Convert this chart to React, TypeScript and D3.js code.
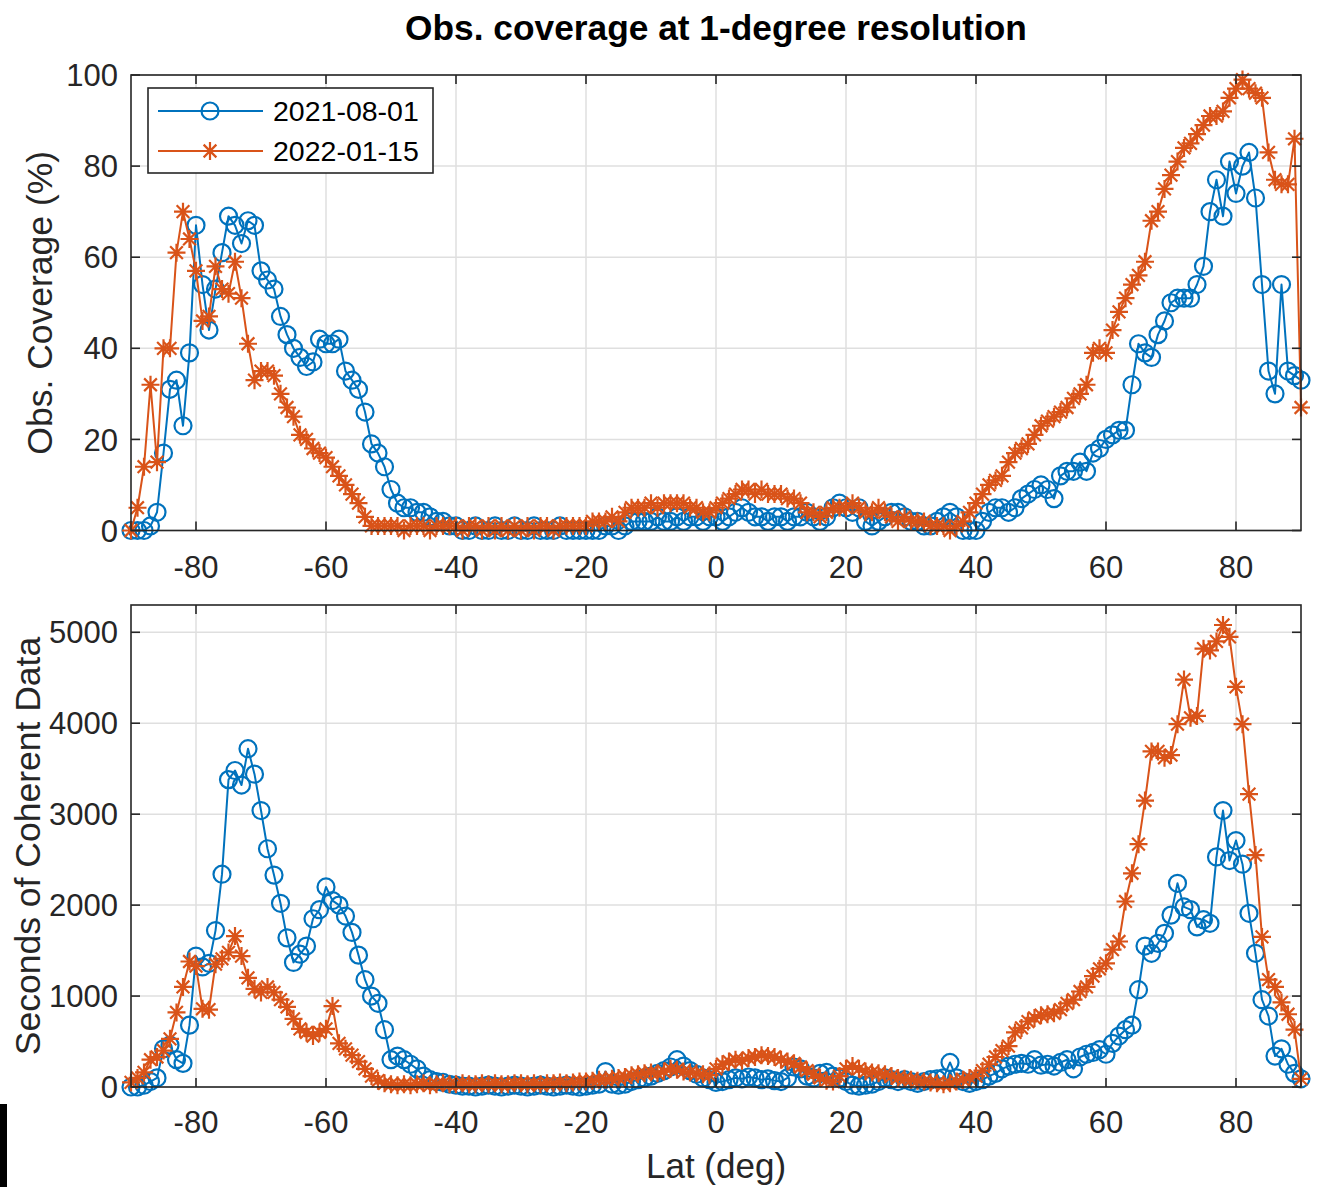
import React from 'react';
import * as d3 from 'd3';

// Latitude bins, 1-degree resolution
const LAT: number[] = d3.range(-90, 91);

const SERIES_NAMES = ['2021-08-01', '2022-01-15'];
const SERIES_COLORS = ['#0072BD', '#D95319'];

const X_TICKS = [-80, -60, -40, -20, 0, 20, 40, 60, 80];
const COVERAGE_TICKS = [0, 20, 40, 60, 80, 100];
const SECONDS_TICKS = [0, 1000, 2000, 3000, 4000, 5000];

// Obs. coverage (%), 2021-08-01, lat -90..90
const coverage2021 = [
  0, 0, 0, 1, 4, 17, 31, 33, 23, 39,
  67, 54, 44, 53, 61, 69, 67, 63, 68, 67,
  57, 55, 53, 47, 43, 40, 38, 36, 37, 42,
  41, 41, 42, 35, 33, 31, 26, 19, 17, 14,
  9, 6, 5, 5, 4, 4, 3, 2, 2, 1,
  1, 0, 0, 1, 0, 0, 1, 0, 0, 1,
  0, 0, 1, 0, 0, 0, 1, 0, 0, 0,
  0, 0, 0, 1, 1, 0, 1, 2, 2, 2,
  2, 3, 2, 2, 3, 2, 3, 3, 2, 3,
  3, 2, 3, 4, 5, 4, 3, 3, 2, 3,
  3, 2, 3, 3, 4, 3, 2, 3, 5, 6,
  5, 4, 5, 2, 1, 2, 3, 4, 4, 3,
  2, 2, 1, 1, 2, 3, 4, 3, 0, 0,
  0, 2, 4, 5, 5, 4, 5, 7, 8, 9,
  10, 9, 7, 12, 13, 13, 15, 13, 17, 18,
  20, 21, 22, 22, 32, 41, 39, 38, 43, 46,
  50, 51, 51, 51, 54, 58, 70, 77, 69, 81,
  74, 80, 83, 73, 54, 35, 30, 54, 35, 34,
  33,
];

// Obs. coverage (%), 2022-01-15, lat -90..90
const coverage2022 = [
  0, 5, 14, 32, 15, 40, 40, 61, 70, 64,
  57, 46, 47, 58, 53, 52, 59, 51, 41, 33,
  35, 35, 34, 30, 27, 25, 21, 20, 18, 17,
  16, 14, 12, 10, 8, 6, 3, 1, 1, 1,
  1, 1, 0, 1, 1, 1, 0, 1, 1, 1,
  1, 0, 1, 1, 0, 1, 0, 1, 0, 1,
  0, 1, 0, 1, 1, 0, 1, 1, 1, 1,
  1, 2, 2, 2, 3, 2, 4, 5, 5, 5,
  6, 5, 6, 6, 6, 6, 5, 5, 4, 4,
  5, 6, 7, 8, 9, 9, 8, 9, 8, 8,
  8, 7, 7, 6, 4, 4, 3, 4, 5, 5,
  5, 6, 5, 4, 4, 5, 4, 3, 2, 3,
  2, 2, 2, 1, 1, 1, 0, 1, 2, 4,
  6, 8, 10, 11, 12, 15, 17, 18, 19, 21,
  23, 24, 25, 26, 27, 29, 30, 32, 39, 40,
  39, 44, 48, 51, 54, 56, 59, 68, 70, 75,
  78, 81, 84, 85, 87, 89, 91, 91, 92, 95,
  97, 99, 97, 96, 95, 83, 77, 76, 76, 86,
  27,
];

// Seconds of coherent data, 2021-08-01, lat -90..90
const seconds2021 = [
  0, 0, 20, 60, 100, 420, 460, 300, 260, 680,
  1440, 1320, 1360, 1720, 2340, 3380, 3480, 3320, 3720, 3440,
  3040, 2620, 2330, 2020, 1640, 1370, 1460, 1550, 1850, 1950,
  2200, 2050, 2000, 1880, 1700, 1450, 1180, 1000, 920, 630,
  300, 340, 300, 250, 200, 120, 80, 60, 50, 30,
  20, 10, 10, 0, 10, 20, 10, 0, 10, 20,
  10, 0, 10, 20, 10, 0, 10, 20, 10, 0,
  10, 20, 30, 170, 30, 20, 30, 60, 80, 100,
  120, 150, 180, 220, 300, 230, 180, 140, 100, 80,
  50, 60, 80, 100, 90, 110, 100, 80, 90, 70,
  60, 100, 220, 200, 120, 100, 150, 160, 120, 100,
  60, 20, 10, 20, 30, 60, 100, 80, 60, 80,
  60, 40, 60, 80, 90, 100, 270, 100, 60, 40,
  60, 80, 120, 150, 200, 230, 250, 260, 250, 300,
  240, 250, 230, 270, 300, 200, 330, 360, 380, 410,
  360, 480, 560, 630, 680, 1070, 1550, 1470, 1580, 1690,
  1890, 2240, 1980, 1950, 1760, 1840, 1800, 2530, 3040, 2490,
  2710, 2450, 1910, 1470, 960, 780, 340, 420, 250, 150,
  90,
];

// Seconds of coherent data, 2022-01-15, lat -90..90
const seconds2022 = [
  50, 100, 160, 300, 330, 400, 530, 820, 1100, 1380,
  1330, 860, 850, 1350, 1410, 1480, 1660, 1440, 1200, 1080,
  1040, 1100, 1040, 960, 880, 750, 640, 600, 560, 600,
  640, 890, 480, 420, 350, 280, 200, 120, 70, 40,
  30, 20, 30, 20, 30, 40, 20, 30, 40, 30,
  30, 40, 30, 30, 40, 30, 40, 30, 30, 40,
  40, 30, 40, 30, 40, 40, 50, 40, 50, 60,
  60, 70, 80, 80, 90, 100, 110, 130, 140, 150,
  160, 150, 170, 200, 190, 170, 160, 150, 140, 130,
  200, 250, 280, 300, 290, 320, 330, 350, 340, 330,
  300, 280, 260, 220, 180, 140, 100, 70, 60, 120,
  200, 230, 200, 170, 160, 150, 140, 120, 100, 90,
  80, 70, 60, 50, 40, 30, 40, 60, 80, 100,
  120, 180, 250, 330, 400, 450, 600, 650, 720, 760,
  790, 800, 810, 850, 920, 960, 1050, 1100, 1220, 1300,
  1360, 1510, 1600, 2040, 2350, 2670, 3150, 3690, 3690, 3620,
  3650, 3990, 4480, 4060, 4080, 4820, 4800, 4900, 5080, 4950,
  4400, 3990, 3220, 2550, 1650, 1180, 1100, 930, 800, 630,
  90,
];

const W = 1318;
const H = 1187;
const FONT = '"Liberation Sans", Arial, Helvetica, sans-serif';
const AXIS_COLOR = '#262626';
const GRID_COLOR = '#dfdfdf';
const TICK_LEN = 9;
const CIRCLE_R = 8.5;
const STAR_R = 9;
const MARKER_STROKE = 2.2;

const xScale = d3.scaleLinear().domain([-90, 90]).range([131, 1301]);

const STAR_PATH = (() => {
  const r = STAR_R;
  const a = r * Math.SQRT1_2;
  return `M${-r},0L${r},0M0,${-r}L0,${r}M${-a},${-a}L${a},${a}M${-a},${a}L${a},${-a}`;
})();

function Marker({ kind, x, y, color }: { kind: number; x: number; y: number; color: string }) {
  if (kind === 0) {
    return <circle cx={x} cy={y} r={CIRCLE_R} fill="none" stroke={color} strokeWidth={MARKER_STROKE} />;
  }
  return (
    <path d={STAR_PATH} transform={`translate(${x},${y})`} fill="none" stroke={color} strokeWidth={MARKER_STROKE} />
  );
}

type PanelProps = {
  top: number;
  bottom: number;
  yMax: number;
  yTicks: number[];
  series: number[][];
  ylabel: string;
  ylabelX: number;
  tickLabelY: number;
  legend?: boolean;
};

function Panel({ top, bottom, yMax, yTicks, series, ylabel, ylabelX, tickLabelY, legend }: PanelProps) {
  const y = d3.scaleLinear().domain([0, yMax]).range([bottom, top]);
  const [x0, x1] = xScale.range();
  const line = d3
    .line<number>()
    .x((_, i) => xScale(LAT[i]))
    .y((d) => y(d));

  return (
    <g>
      {/* grid */}
      {X_TICKS.map((t) => (
        <line key={`gx${t}`} x1={xScale(t)} x2={xScale(t)} y1={top} y2={bottom} stroke={GRID_COLOR} strokeWidth={1.5} />
      ))}
      {yTicks.map((t) => (
        <line key={`gy${t}`} x1={x0} x2={x1} y1={y(t)} y2={y(t)} stroke={GRID_COLOR} strokeWidth={1.5} />
      ))}

      {/* series: line then markers, first date underneath */}
      {series.map((vals, s) => (
        <g key={`s${s}`}>
          <path d={line(vals) || ''} fill="none" stroke={SERIES_COLORS[s]} strokeWidth={2} strokeLinejoin="round" />
          {vals.map((v, i) => (
            <Marker key={i} kind={s} x={xScale(LAT[i])} y={y(v)} color={SERIES_COLORS[s]} />
          ))}
        </g>
      ))}

      {/* box and ticks */}
      <rect x={x0} y={top} width={x1 - x0} height={bottom - top} fill="none" stroke={AXIS_COLOR} strokeWidth={1.6} />
      {X_TICKS.map((t) => (
        <g key={`tx${t}`}>
          <line x1={xScale(t)} x2={xScale(t)} y1={bottom} y2={bottom - TICK_LEN} stroke={AXIS_COLOR} strokeWidth={1.6} />
          <line x1={xScale(t)} x2={xScale(t)} y1={top} y2={top + TICK_LEN} stroke={AXIS_COLOR} strokeWidth={1.6} />
          <text x={xScale(t)} y={tickLabelY} textAnchor="middle" fontSize={31} fill={AXIS_COLOR} fontFamily={FONT}>
            {String(t)}
          </text>
        </g>
      ))}
      {yTicks.map((t) => (
        <g key={`ty${t}`}>
          <line x1={x0} x2={x0 + TICK_LEN} y1={y(t)} y2={y(t)} stroke={AXIS_COLOR} strokeWidth={1.6} />
          <line x1={x1} x2={x1 - TICK_LEN} y1={y(t)} y2={y(t)} stroke={AXIS_COLOR} strokeWidth={1.6} />
          <text x={x0 - 13} y={y(t)} dy="0.36em" textAnchor="end" fontSize={31} fill={AXIS_COLOR} fontFamily={FONT}>
            {String(t)}
          </text>
        </g>
      ))}

      <text
        transform={`translate(${ylabelX},${(top + bottom) / 2}) rotate(-90)`}
        dy="0.36em"
        textAnchor="middle"
        fontSize={35.5}
        fill={AXIS_COLOR}
        fontFamily={FONT}
      >
        {ylabel}
      </text>

      {legend && (
        <g>
          <rect x={148} y={88} width={285} height={85} fill="#ffffff" stroke={AXIS_COLOR} strokeWidth={1.6} />
          {SERIES_NAMES.map((name, s) => {
            const ly = 111 + s * 40;
            return (
              <g key={name}>
                <line x1={158} x2={263} y1={ly} y2={ly} stroke={SERIES_COLORS[s]} strokeWidth={2} />
                <Marker kind={s} x={210} y={ly} color={SERIES_COLORS[s]} />
                <text x={273} y={ly} dy="0.36em" fontSize={28.5} fill="#000000" fontFamily={FONT}>
                  {name}
                </text>
              </g>
            );
          })}
        </g>
      )}
    </g>
  );
}

export default function App() {
  return (
    <svg
      width={W}
      height={H}
      viewBox={`0 0 ${W} ${H}`}
      style={{ position: 'absolute', left: 0, top: 0, background: '#ffffff' }}
    >
      <rect x={0} y={0} width={W} height={H} fill="#ffffff" />
      <text x={716} y={27} dy="0.36em" textAnchor="middle" fontSize={35.3} fontWeight="bold" fill="#000000" fontFamily={FONT}>
        Obs. coverage at 1-degree resolution
      </text>

      <Panel
        top={75}
        bottom={530.5}
        yMax={100}
        yTicks={COVERAGE_TICKS}
        series={[coverage2021, coverage2022]}
        ylabel="Obs. Coverage (%)"
        ylabelX={39}
        tickLabelY={578}
        legend
      />
      <Panel
        top={605}
        bottom={1087}
        yMax={5300}
        yTicks={SECONDS_TICKS}
        series={[seconds2021, seconds2022]}
        ylabel="Seconds of Coherent Data"
        ylabelX={27}
        tickLabelY={1133}
      />

      <text x={716} y={1165} dy="0.36em" textAnchor="middle" fontSize={35} fill={AXIS_COLOR} fontFamily={FONT}>
        Lat (deg)
      </text>

      {/* dark strip along the lower-left edge */}
      <rect x={0} y={1104} width={7} height={83} fill="#000000" />
    </svg>
  );
}
